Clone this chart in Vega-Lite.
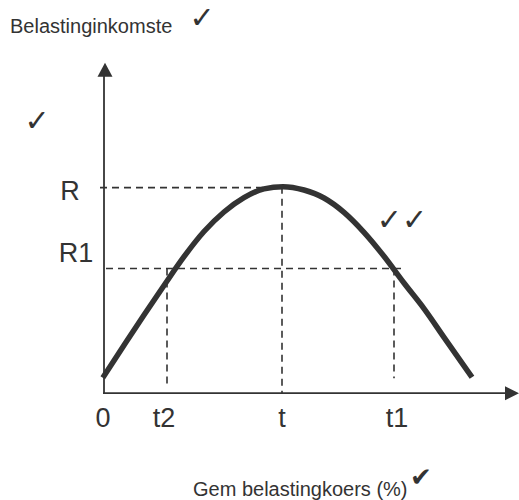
{
  "$schema": "https://vega.github.io/schema/vega-lite/v6.json",
  "width": 519,
  "height": 500,
  "autosize": {"type": "fit", "contains": "padding"},
  "padding": 0,
  "background": "white",
  "config": {"view": {"stroke": null}},
  "encoding": {
    "x": {"field": "x", "type": "quantitative", "scale": {"domain": [-26, 103.75], "nice": false, "zero": false}, "axis": null},
    "y": {"field": "y", "type": "quantitative", "scale": {"domain": [-26.5, 98.5], "nice": false, "zero": false}, "axis": null}
  },
  "layer": [
    {
      "data": {"values": [
        {"x": -1, "y": 51.5, "x2": 44.75, "y2": 51.5},
        {"x": 0.5, "y": 31.25, "x2": 74.75, "y2": 31.25},
        {"x": 15.75, "y": 31.25, "x2": 15.75, "y2": 1.5},
        {"x": 44.5, "y": 51.75, "x2": 44.5, "y2": 0},
        {"x": 72.5, "y": 31.25, "x2": 72.5, "y2": 3.75}
      ]},
      "mark": {"type": "rule", "color": "#333", "strokeWidth": 1.6, "strokeDash": [7, 5]},
      "encoding": {"x2": {"field": "x2"}, "y2": {"field": "y2"}}
    },
    {
      "data": {"values": [
        {"x": 0, "y": 0, "x2": 0, "y2": 80},
        {"x": -0.25, "y": 0, "x2": 102, "y2": 0}
      ]},
      "mark": {"type": "rule", "color": "#333", "strokeWidth": 1.8},
      "encoding": {"x2": {"field": "x2"}, "y2": {"field": "y2"}}
    },
    {
      "data": {"values": [{"x": 0.25, "y": 81}]},
      "mark": {"type": "point", "shape": "M0,-1L1.07,1L-1.07,1Z", "size": 196, "filled": true, "color": "#333", "opacity": 1}
    },
    {
      "data": {"values": [{"x": 102, "y": 0}]},
      "mark": {"type": "point", "shape": "M1,0L-1,-1L-1,1Z", "size": 196, "filled": true, "color": "#333", "opacity": 1}
    },
    {
      "data": {"values": [
        {"x": -0.3, "y": 3.85},
        {"x": 5, "y": 12.0},
        {"x": 10, "y": 19.6},
        {"x": 15, "y": 27.0},
        {"x": 20, "y": 34.2},
        {"x": 25, "y": 40.5},
        {"x": 30, "y": 45.4},
        {"x": 35, "y": 49.0},
        {"x": 40, "y": 51.2},
        {"x": 44.75, "y": 51.75},
        {"x": 50, "y": 50.9},
        {"x": 55, "y": 48.9},
        {"x": 60, "y": 45.3},
        {"x": 65, "y": 40.3},
        {"x": 70, "y": 34.3},
        {"x": 75, "y": 27.6},
        {"x": 80, "y": 21.2},
        {"x": 85, "y": 14.0},
        {"x": 92, "y": 4.0}
      ]},
      "mark": {"type": "line", "color": "#333", "strokeWidth": 5.5, "strokeCap": "butt", "interpolate": "monotone"}
    },
    {
      "data": {"values": [
        {"x": -8.5, "y": 48.5, "label": "R"},
        {"x": -7, "y": 32.75, "label": "R1"},
        {"x": -0.25, "y": -8.5, "label": "0"},
        {"x": 15, "y": -8.5, "label": "t2"},
        {"x": 44.5, "y": -8.5, "label": "t"},
        {"x": 73.25, "y": -8.5, "label": "t1"}
      ]},
      "mark": {"type": "text", "font": "Liberation Sans", "fontSize": 27, "color": "#333", "align": "center", "baseline": "alphabetic"},
      "encoding": {"text": {"field": "label"}}
    },
    {
      "data": {"values": [
        {"x": -23.5, "y": 90.25, "label": "Belastinginkomste"},
        {"x": 22.25, "y": -25.75, "label": "Gem belastingkoers (%)"}
      ]},
      "mark": {"type": "text", "font": "Liberation Sans", "fontSize": 20, "color": "#333", "align": "left", "baseline": "alphabetic"},
      "encoding": {"text": {"field": "label"}}
    },
    {
      "data": {"values": [
        {"x": 24.5, "y": 93.75, "label": "✓"},
        {"x": -16.75, "y": 68, "label": "✓"},
        {"x": 74.5, "y": 43.25, "label": "✓✓"}
      ]},
      "mark": {"type": "text", "font": "DejaVu Sans", "fontSize": 30, "color": "#333", "align": "center", "baseline": "middle"},
      "encoding": {"text": {"field": "label"}}
    },
    {
      "data": {"values": [
        {"x": 79.25, "y": -21.25, "label": "✔"}
      ]},
      "mark": {"type": "text", "font": "DejaVu Sans", "fontSize": 26, "color": "#333", "align": "center", "baseline": "middle"},
      "encoding": {"text": {"field": "label"}}
    }
  ]
}
